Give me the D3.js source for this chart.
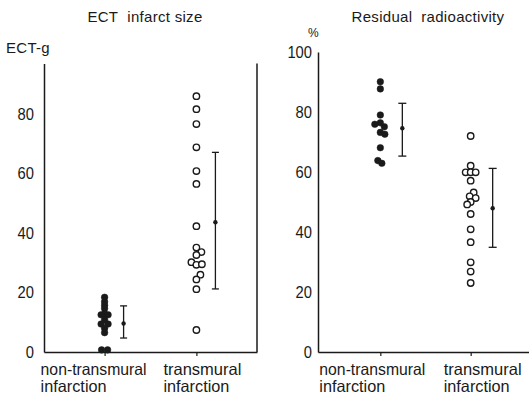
<!DOCTYPE html>
<html>
<head>
<meta charset="utf-8">
<script src="https://cdn.jsdelivr.net/npm/d3@7"></script>
<style>
  body { margin: 0; background: #fff; }
  svg text { fill: #1a1a1a; }
  .title, .unit { font-family: "Liberation Sans", Arial, sans-serif; font-size: 15px; letter-spacing: 0.3px; }
  .tick text { font-family: "Liberation Sans", Arial, sans-serif; font-size: 17px; }
  .cat { font-family: "Liberation Sans", Arial, sans-serif; font-size: 16.5px; }
</style>
</head>
<body>
<svg id="chart" width="529" height="397"></svg>
<script>
// categories and their two-line labels
const categories = ['non', 'trans'];
const categoryLines = [['non-transmural', 'infarction'], ['transmural', 'infarction']];

// ECT infarct size (ECT-g)
const ectNonValues = [18.4, 16.9, 15.7, 14.6, 12.5, 12.8, 12.5, 10.8, 9.4, 9.4, 8.0, 6.5, 0.7, 0.7];
const ectNonSlots  = [0, 0, 0, 0, -0.7, 0, 0.7, 0, -0.7, 0.7, 0, 0, -0.6, 0.6];
const ectTransValues = [86, 81.6, 76.6, 68.8, 60.8, 56.5, 42.3, 35.1, 33.6, 32.6, 30.2, 29.3, 29.5, 26, 24.4, 21.1, 7.4];
const ectTransSlots  = [0, 0, 0, 0, 0, 0, 0, 0, 1, 0, -1, 0, 1.1, 0.8, 0, 0, 0];
const ectMean = [9.6, 43.6];
const ectLow  = [4.7, 21.2];
const ectHigh = [15.5, 67.1];
const ectTicks = [0, 20, 40, 60, 80];

// Residual radioactivity (%)
const resNonValues = [90.1, 87.7, 79, 76.4, 75.9, 75.1, 73.2, 72.6, 68.1, 63.8, 62.9];
const resNonSlots  = [0, 0, 0, 0, -1.1, 0.8, 0, 0.9, 0, -0.5, 0.3];
const resTransValues = [72, 62.1, 59.9, 59.9, 59.9, 57.1, 53.2, 51.9, 51.3, 50, 49.2, 46, 40.9, 36.6, 29.9, 26.8, 23];
const resTransSlots  = [0, 0, -1, 0, 1, 0, 0.6, -0.2, 1, 0, -0.7, 0, 0, 0, 0, 0, 0];
const resMean = [74.6, 47.9];
const resLow  = [65.3, 34.9];
const resHigh = [82.9, 61.2];
const resTicks = [0, 20, 40, 60, 80, 100];

const ink = '#1a1a1a';
const svg = d3.select('#chart');
const baseY = 352;

// the original lettering is condensed; squeeze each label line to its printed width
const lineWidths = [[106, 66], [78, 66]];

function drawPanel(cfg) {
  const g = svg.append('g');

  const x = d3.scalePoint().domain(categories).range(cfg.xRange).padding(cfg.pad);
  const y = d3.scaleLinear().domain([0, cfg.yMax]).range([baseY, cfg.yTop]);

  // y axis
  const ya = g.append('g')
    .attr('transform', 'translate(' + cfg.xRange[0] + ',0)')
    .call(d3.axisLeft(y).tickValues(cfg.ticks).tickSize(0).tickSizeOuter(0).tickPadding(cfg.tickPad));
  ya.select('.domain').attr('stroke', ink).attr('stroke-width', 1.5);
  ya.selectAll('.tick text').attr('fill', ink)
    .attr('textLength', d => String(d).length * 8.2)
    .attr('lengthAdjust', 'spacingAndGlyphs');

  // bottom axis
  const xa = g.append('g')
    .attr('transform', 'translate(0,' + baseY + ')')
    .call(d3.axisBottom(x).tickSize(4).tickSizeOuter(0).tickFormat(''));
  xa.select('.domain').attr('stroke', ink).attr('stroke-width', 1.5);
  xa.selectAll('.tick line').attr('stroke', ink).attr('stroke-width', 1.2);

  if (cfg.rightBorder) {
    g.append('line')
      .attr('x1', cfg.xRange[1]).attr('x2', cfg.xRange[1])
      .attr('y1', y(cfg.yMax)).attr('y2', baseY)
      .attr('stroke', ink).attr('stroke-width', 1.5);
  }

  // dots
  cfg.groups.forEach((grp, i) => {
    const pts = grp.values.map((v, j) => ({ v: v, s: grp.slots[j] }));
    g.append('g').selectAll('circle')
      .data(pts)
      .join('circle')
      .attr('cx', d => x(categories[i]) + d.s * 5)
      .attr('cy', d => y(d.v))
      .attr('r', grp.filled ? 3.3 : 3.2)
      .attr('fill', grp.filled ? ink : '#fff')
      .attr('stroke', ink)
      .attr('stroke-width', grp.filled ? 0.5 : 1.4);
  });

  // mean +/- SD bars
  const bars = g.append('g').selectAll('g')
    .data(categories.map((c, i) => ({ c: c, m: cfg.mean[i], lo: cfg.low[i], hi: cfg.high[i] })))
    .join('g')
    .attr('transform', d => 'translate(' + (x(d.c) + cfg.barOff) + ',0)');
  bars.append('line').attr('y1', d => y(d.lo)).attr('y2', d => y(d.hi))
    .attr('stroke', ink).attr('stroke-width', 1.3);
  [d => y(d.lo), d => y(d.hi)].forEach(fy => {
    bars.append('line').attr('x1', -cfg.cap).attr('x2', cfg.cap)
      .attr('y1', fy).attr('y2', fy)
      .attr('stroke', ink).attr('stroke-width', 1.3);
  });
  bars.append('circle').attr('cy', d => y(d.m)).attr('r', 2.2).attr('fill', ink);

  // category labels
  categories.forEach((c, i) => {
    const lx = x(c) + cfg.labelShift[i];
    categoryLines[i].forEach((line, k) => {
      g.append('text').attr('class', 'cat')
        .attr('x', lx).attr('y', 375 + k * 17)
        .attr('textLength', lineWidths[i][k])
        .attr('lengthAdjust', 'spacingAndGlyphs')
        .text(line);
    });
  });

  // title and unit
  g.append('text').attr('class', 'title')
    .attr('x', cfg.titleX).attr('y', 22).attr('text-anchor', 'middle')
    .text(cfg.title);
  g.append('text').attr('class', 'unit')
    .attr('x', cfg.unitX).attr('y', cfg.unitY)
    .style('font-size', cfg.unitSize)
    .text(cfg.unit);
}

drawPanel({
  xRange: [44, 257], pad: 0.66, yMax: 97, yTop: 63.4, ticks: ectTicks, tickPad: 10,
  rightBorder: true,
  groups: [
    { values: ectNonValues, slots: ectNonSlots, filled: true },
    { values: ectTransValues, slots: ectTransSlots, filled: false }
  ],
  mean: ectMean, low: ectLow, high: ectHigh, barOff: 19, cap: 3.5,
  labelShift: [-64, -33],
  title: 'ECT\u00a0\u00a0infarct size', titleX: 145,
  unit: 'ECT-g', unitX: 6, unitY: 53, unitSize: '15px'
});

drawPanel({
  xRange: [318, 533], pad: 0.69, yMax: 100, yTop: 52, ticks: resTicks, tickPad: 6,
  rightBorder: false,
  groups: [
    { values: resNonValues, slots: resNonSlots, filled: true },
    { values: resTransValues, slots: resTransSlots, filled: false }
  ],
  mean: resMean, low: resLow, high: resHigh, barOff: 22, cap: 4,
  labelShift: [-61, -27],
  title: 'Residual\u00a0\u00a0radioactivity', titleX: 428,
  unit: '%', unitX: 308, unitY: 37, unitSize: '12px'
});
</script>
</body>
</html>
